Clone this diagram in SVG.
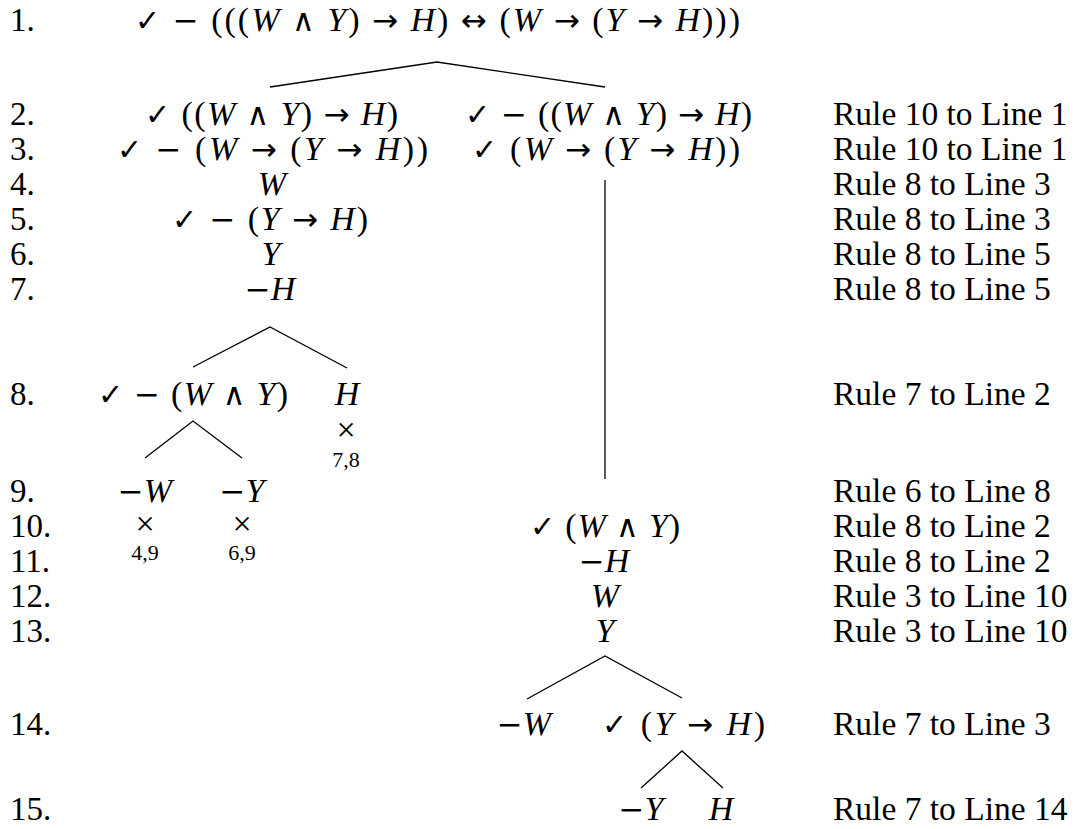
<svg xmlns="http://www.w3.org/2000/svg" width="1076" height="829" viewBox="0 0 1076 829">
<style>
text{font-family:"Liberation Serif","Times New Roman",serif;font-size:34px;fill:#000}
.m{text-anchor:middle}
.i{font-style:italic}
.ck{font-family:"DejaVu Sans",sans-serif;font-size:30px;font-weight:bold}
.op{font-family:"DejaVu Sans",sans-serif;font-size:31px}
.lbl{font-size:33.5px}
.num{font-size:33px}
.sm{font-size:22px}
.x{font-size:34px}
line,polyline{stroke:#000;stroke-width:1.3;fill:none}
</style>
<rect width="1076" height="829" fill="#fff"/>
<g id="rownums">
<text class="num" x="10" y="31">1.</text>
<text class="num" x="10" y="125">2.</text>
<text class="num" x="10" y="160">3.</text>
<text class="num" x="10" y="195">4.</text>
<text class="num" x="10" y="230">5.</text>
<text class="num" x="10" y="265">6.</text>
<text class="num" x="10" y="300">7.</text>
<text class="num" x="10" y="405">8.</text>
<text class="num" x="10" y="502">9.</text>
<text class="num" x="10" y="537">10.</text>
<text class="num" x="10" y="572">11.</text>
<text class="num" x="10" y="607">12.</text>
<text class="num" x="10" y="642">13.</text>
<text class="num" x="10" y="735">14.</text>
<text class="num" x="10" y="820">15.</text>
</g>
<g id="rules">
<text class="lbl" x="833" y="125">Rule 10 to Line 1</text>
<text class="lbl" x="833" y="160">Rule 10 to Line 1</text>
<text class="lbl" x="833" y="195">Rule 8 to Line 3</text>
<text class="lbl" x="833" y="230">Rule 8 to Line 3</text>
<text class="lbl" x="833" y="265">Rule 8 to Line 5</text>
<text class="lbl" x="833" y="300">Rule 8 to Line 5</text>
<text class="lbl" x="833" y="405">Rule 7 to Line 2</text>
<text class="lbl" x="833" y="502">Rule 6 to Line 8</text>
<text class="lbl" x="833" y="537">Rule 8 to Line 2</text>
<text class="lbl" x="833" y="572">Rule 8 to Line 2</text>
<text class="lbl" x="833" y="607">Rule 3 to Line 10</text>
<text class="lbl" x="833" y="642">Rule 3 to Line 10</text>
<text class="lbl" x="833" y="735">Rule 7 to Line 3</text>
<text class="lbl" x="833" y="820">Rule 7 to Line 14</text>
</g>
<g id="connectors">
<polyline points="270,87 437,62 605,87"/>
<line x1="605" y1="180" x2="605" y2="479"/>
<polyline points="193,367 270,327 347,368"/>
<polyline points="145,458 193,421 242,458"/>
<polyline points="527,699 605,656 682,698"/>
<polyline points="641,788 682,751 723,788"/>
</g>
<g id="n1"><text x="135" y="31" textLength="605" lengthAdjust="spacing"><tspan class="ck">✓</tspan>  <tspan class="op">−</tspan> (((<tspan class="i">W</tspan> <tspan class="op">∧</tspan> <tspan class="i">Y</tspan>) <tspan class="op">→</tspan> <tspan class="i">H</tspan>) <tspan class="op">↔</tspan> (<tspan class="i">W</tspan> <tspan class="op">→</tspan> (<tspan class="i">Y</tspan> <tspan class="op">→</tspan> <tspan class="i">H</tspan>)))</text></g>
<g id="n2a"><text x="145" y="125" textLength="253" lengthAdjust="spacing"><tspan class="ck">✓</tspan> ((<tspan class="i">W</tspan> <tspan class="op">∧</tspan> <tspan class="i">Y</tspan>) <tspan class="op">→</tspan> <tspan class="i">H</tspan>)</text></g>
<g id="n3a"><text x="117" y="160" textLength="311" lengthAdjust="spacing"><tspan class="ck">✓</tspan>  <tspan class="op">−</tspan> (<tspan class="i">W</tspan> <tspan class="op">→</tspan> (<tspan class="i">Y</tspan> <tspan class="op">→</tspan> <tspan class="i">H</tspan>))</text></g>
<g id="n4a"><text class="m i" x="272" y="195">W</text></g>
<g id="n5a"><text x="172" y="230" textLength="196" lengthAdjust="spacing"><tspan class="ck">✓</tspan>  <tspan class="op">−</tspan> (<tspan class="i">Y</tspan> <tspan class="op">→</tspan> <tspan class="i">H</tspan>)</text></g>
<g id="n6a"><text class="m i" x="271" y="265">Y</text></g>
<g id="n7a"><text class="m" x="270" y="300"><tspan class="op">−</tspan><tspan class="i">H</tspan></text></g>
<g id="n8a"><text x="98" y="405" textLength="190" lengthAdjust="spacing"><tspan class="ck">✓</tspan>  <tspan class="op">−</tspan> (<tspan class="i">W</tspan> <tspan class="op">∧</tspan> <tspan class="i">Y</tspan>)</text></g>
<g id="n8b"><text class="m i" x="347" y="405">H</text><text class="m x" x="346" y="441">×</text><text class="m sm" x="346" y="467">7,8</text></g>
<g id="n9a"><text class="m" x="145" y="502"><tspan class="op">−</tspan><tspan class="i">W</tspan></text><text class="m x" x="145" y="535">×</text><text class="m sm" x="145" y="560">4,9</text></g>
<g id="n9b"><text class="m" x="242" y="502"><tspan class="op">−</tspan><tspan class="i">Y</tspan></text><text class="m x" x="242" y="535">×</text><text class="m sm" x="242" y="560">6,9</text></g>
<g id="n2b"><text x="465" y="125" textLength="287" lengthAdjust="spacing"><tspan class="ck">✓</tspan>  <tspan class="op">−</tspan> ((<tspan class="i">W</tspan> <tspan class="op">∧</tspan> <tspan class="i">Y</tspan>) <tspan class="op">→</tspan> <tspan class="i">H</tspan>)</text></g>
<g id="n3b"><text x="472" y="160" textLength="268" lengthAdjust="spacing"><tspan class="ck">✓</tspan> (<tspan class="i">W</tspan> <tspan class="op">→</tspan> (<tspan class="i">Y</tspan> <tspan class="op">→</tspan> <tspan class="i">H</tspan>))</text></g>
<g id="n10b"><text x="530" y="537" textLength="150" lengthAdjust="spacing"><tspan class="ck">✓</tspan> (<tspan class="i">W</tspan> <tspan class="op">∧</tspan> <tspan class="i">Y</tspan>)</text></g>
<g id="n11b"><text class="m" x="604" y="572"><tspan class="op">−</tspan><tspan class="i">H</tspan></text></g>
<g id="n12b"><text class="m i" x="605" y="607">W</text></g>
<g id="n13b"><text class="m i" x="605" y="642">Y</text></g>
<g id="n14a"><text class="m" x="524" y="735"><tspan class="op">−</tspan><tspan class="i">W</tspan></text></g>
<g id="n14b"><text x="602" y="735" textLength="163" lengthAdjust="spacing"><tspan class="ck">✓</tspan> (<tspan class="i">Y</tspan> <tspan class="op">→</tspan> <tspan class="i">H</tspan>)</text></g>
<g id="n15a"><text class="m" x="641" y="820"><tspan class="op">−</tspan><tspan class="i">Y</tspan></text></g>
<g id="n15b"><text class="m i" x="721" y="820">H</text></g>
</svg>
